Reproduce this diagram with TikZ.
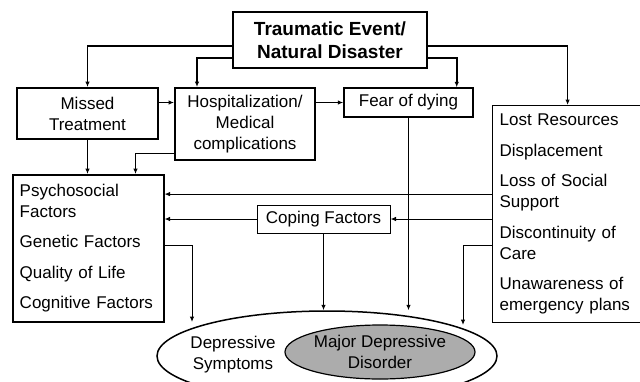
\documentclass[tikz,border=0pt]{standalone}
\usepackage{fontspec}
\setmainfont{Liberation Sans}
\usetikzlibrary{arrows.meta,shapes.geometric}

\begin{document}
\begin{tikzpicture}[x=1pt, y=-1pt, >={Latex[length=5.5pt,width=4.5pt]},
	every node/.style={font=\fontsize{17}{21}\selectfont, inner sep=0pt},
	box/.style={draw, line width=#1, align=center}, box/.default=1.5pt,
	list/.style={draw, anchor=north west, align=left, inner xsep=7pt, line width=1.2pt},
	link/.style={->, line width=1pt},
	toplink/.style={->, line width=1.5pt}]
	\useasboundingbox (0,0) rectangle (640,381);
	\node[box=2.5pt, minimum width=194pt, minimum height=56pt, font=\bfseries\fontsize{19}{23}\selectfont] (event) at (330,40) {Traumatic Event/\\Natural Disaster};
	\node[box=2pt, minimum width=141pt, minimum height=51pt] (missed) at (87.5,113.5) {Missed\\Treatment};
	\node[box=2pt, minimum width=140pt, minimum height=72pt] (hosp) at (245,124) {Hospitalization/\\Medical\\complications};
	\node[box, minimum width=129pt, minimum height=29pt] (fear) at (408.5,102.5) {Fear of dying};
	\node[box=1pt, minimum width=133pt, minimum height=28pt] (coping) at (323.5,219) {Coping Factors};
	\node[list, line width=1.5pt, text width=137pt, minimum height=147pt] (factors) at (12,174) {Psychosocial\\Factors\\[9.5pt]Genetic Factors\\[9.5pt]Quality of Life\\[9.5pt]Cognitive Factors};
	\node[list, text width=136pt, minimum height=217pt] (losses) at (492,105) {Lost Resources\\[9.5pt]Displacement\\[9.5pt]Loss of Social\\Support\\[9.5pt]Discontinuity of\\Care\\[9.5pt]Unawareness of\\emergency plans};
	% outcome ellipses
	\node[draw, ellipse, line width=1.5pt, minimum width=340pt, minimum height=90pt] (depr) at (327,356) {};
	\node[draw, ellipse, fill=gray!65, line width=1.2pt, minimum width=190pt, minimum height=54pt, align=center] (mdd) at (380,352) {Major Depressive\\Disorder};
	\node[align=center] (sympt) at (233,355) {Depressive\\Symptoms};
	\coordinate (socl) at ([yshift=20pt]losses.west);
	\coordinate (carel) at ([yshift=-31pt]losses.west);
	\coordinate (genl) at ([yshift=3pt]factors.east);
	\coordinate (genend) at (192,322);
	\coordinate (careend) at (463,325);
	\draw[toplink] ([yshift=-6pt]event.west) -| (missed.north);
	\draw[toplink] ([yshift=-18pt]event.west) -| ([xshift=23pt]hosp.north west);
	\draw[toplink] ([yshift=-6pt]event.east) -| (losses.north);
	\draw[toplink] ([yshift=-18pt]event.east) -| ([xshift=-17pt]fear.north east);
	\draw[link] (missed.east |- fear.west) -- (hosp.west |- fear.west);
	\draw[link] (hosp.east |- fear.west) -- (fear.west);
	\draw[link] (missed.south) -- (missed.south |- factors.north);
	\draw[link] ([yshift=8pt]hosp.south west) -| ([xshift=-29pt]factors.north east);
	\draw[link] (fear.south) -- (fear.south |- depr.north);
	\draw[link] (socl) -- (socl -| factors.east);
	\draw[link] (losses.west |- coping.east) -- (coping.east);
	\draw[link] (coping.west) -- (coping.west -| factors.east);
	\draw[link] (coping.south) -- (coping.south |- depr.north);
	\draw[link] (genl) -| (genend);
	\draw[link] (carel) -| (careend);
\end{tikzpicture}
\end{document}
